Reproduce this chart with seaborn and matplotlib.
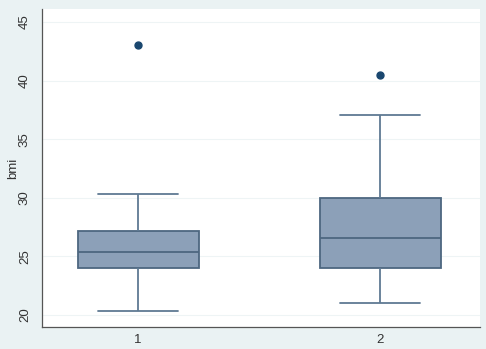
import pandas as pd
import matplotlib.pyplot as plt
import seaborn as sns

# Values (quartiles, whisker ends, outliers per group)
group_1 = [20.3, 22.5, 24.0, 24.8, 25.4, 26.0, 27.2, 30.3, 43.0]
group_2 = [21.0, 23.0, 24.0, 25.5, 26.6, 28.0, 30.0, 37.1, 40.5]
group_labels = ["1", "2"]
y_ticks = [20, 25, 30, 35, 40, 45]

df = pd.DataFrame({
    "group": [group_labels[0]] * len(group_1) + [group_labels[1]] * len(group_2),
    "bmi": group_1 + group_2,
})

bg = "#eaf2f3"
box_fill = "#8ca0b8"
box_edge = "#4d6780"
dot = "#1a476f"

sns.set_style("white")
plt.rcParams["font.family"] = ["Liberation Sans", "DejaVu Sans"]

fig = plt.figure(figsize=(4.86, 3.49), dpi=100, facecolor=bg)
ax = fig.add_axes([0.0864, 0.063, 0.9013, 0.911])
ax.set_facecolor("white")

sns.boxplot(data=df, x="group", y="bmi", ax=ax, width=0.5, whis=1.5,
            color=box_fill, saturation=1,
            boxprops=dict(facecolor=box_fill, edgecolor=box_edge, linewidth=1.3),
            medianprops=dict(color=box_edge, linewidth=1.3),
            whiskerprops=dict(color="#5f7a93", linewidth=1.3),
            capprops=dict(color="#5f7a93", linewidth=1.3),
            flierprops=dict(marker="o", markersize=5, markerfacecolor=dot,
                            markeredgecolor=dot))

# caps are a bit narrower than the box
for cont in ax.containers:
    for cap in getattr(cont, "caps", []):
        xd = cap.get_xdata()
        c = (xd[0] + xd[1]) / 2
        cap.set_xdata([c - 0.165, c + 0.165])

ax.set_xlim(-0.397, 1.413)
ax.set_ylim(18.97, 46.1)
ax.set_yticks(y_ticks)
ax.set_yticklabels([str(t) for t in y_ticks], rotation=90, va="center", fontsize=9.5)
ax.tick_params(axis="y", length=5, width=0.8, color="#555555", pad=3, labelcolor="#333333")
ax.tick_params(axis="x", length=0, labelsize=9.5, pad=5, labelcolor="#333333")
ax.yaxis.grid(True, color="#eef4f5", linewidth=0.8)
ax.set_axisbelow(True)

for side in ["top", "right"]:
    ax.spines[side].set_visible(False)
for side in ["left", "bottom"]:
    ax.spines[side].set_color("#555555")
    ax.spines[side].set_linewidth(0.9)

ax.set_xlabel("")
ax.set_ylabel("bmi", fontsize=9.5, labelpad=0, color="#333333")

plt.savefig("out.png", dpi=100, facecolor=bg)
